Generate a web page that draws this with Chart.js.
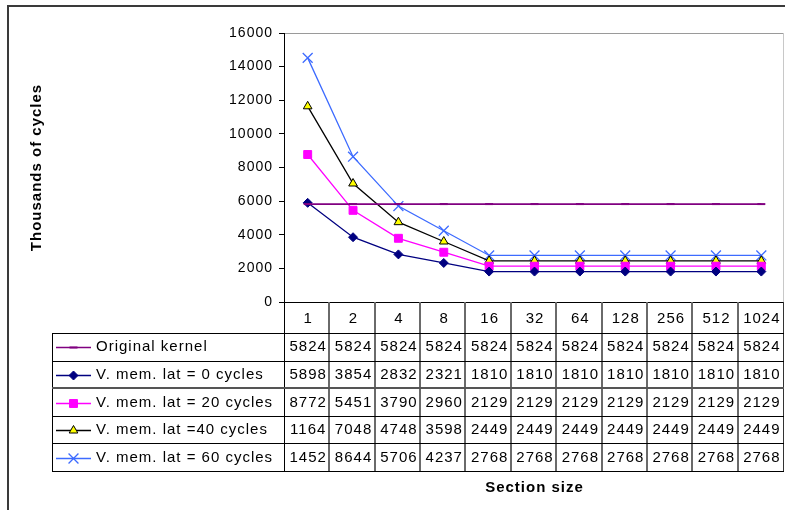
<!DOCTYPE html>
<html>
<head>
<meta charset="utf-8">
<script src="https://cdn.jsdelivr.net/npm/chart.js@4.4.1/dist/chart.umd.min.js"></script>
<style>
  html, body { margin: 0; padding: 0; background: #fff; overflow: hidden; }
  canvas { display: block; }
</style>
</head>
<body>
<canvas id="c" width="785" height="510"></canvas>
<script>
// Section sizes (categories)
const sectionSizes = ['1', '2', '4', '8', '16', '32', '64', '128', '256', '512', '1024'];

// Thousands of cycles per configuration
const originalKernel = [5824, 5824, 5824, 5824, 5824, 5824, 5824, 5824, 5824, 5824, 5824];
const memLat0  = [5898, 3854, 2832, 2321, 1810, 1810, 1810, 1810, 1810, 1810, 1810];
const memLat20 = [8772, 5451, 3790, 2960, 2129, 2129, 2129, 2129, 2129, 2129, 2129];
const memLat40 = [11640, 7048, 4748, 3598, 2449, 2449, 2449, 2449, 2449, 2449, 2449];
const memLat60 = [14520, 8644, 5706, 4237, 2768, 2768, 2768, 2768, 2768, 2768, 2768];

const seriesNames = [
  'Original kernel',
  'V. mem. lat = 0 cycles',
  'V. mem. lat = 20 cycles',
  'V. mem. lat =40 cycles',
  'V. mem. lat = 60 cycles'
];

// Y axis range
const yMin = 0, yMax = 16000, yStep = 2000;

const FONT = "'Liberation Sans', Arial, sans-serif";

// Per-series appearance
const seriesStyles = [
  { line: '#800080', fill: '#800080', edge: '#800080', pointStyle: 'line', radius: 4, edgeWidth: 2, lineWidth: 1.6 },
  { line: '#000080', fill: '#000080', edge: '#000080', pointStyle: 'rectRot', radius: 4.5, edgeWidth: 1, lineWidth: 1.3 },
  { line: '#FF00FF', fill: '#FF00FF', edge: '#FF00FF', pointStyle: 'rect', radius: 5.6, edgeWidth: 1, lineWidth: 1.3 },
  { line: '#000000', fill: '#FFFF00', edge: '#000000', pointStyle: 'triangle', radius: 5, edgeWidth: 1, lineWidth: 1.3 },
  { line: '#3D6BFF', fill: '#3D6BFF', edge: '#3D6BFF', pointStyle: 'crossRot', radius: 7, edgeWidth: 1.3, lineWidth: 1.3 }
];

const seriesValues = [originalKernel, memLat0, memLat20, memLat40, memLat60];

const datasets = seriesValues.map((vals, i) => {
  const s = seriesStyles[i];
  return {
    label: seriesNames[i],
    data: vals,
    borderColor: s.line,
    borderWidth: s.lineWidth,
    backgroundColor: s.fill,
    pointStyle: s.pointStyle,
    pointRadius: s.radius,
    pointHoverRadius: s.radius,
    pointBackgroundColor: s.fill,
    pointBorderColor: s.edge,
    pointBorderWidth: s.edgeWidth,
    tension: 0,
    fill: false
  };
});

const HEADER_H = 31;
const ROW_H = 27.6;
const TABLE_LEFT = 52;

function setSpacing(ctx) {
  if ('letterSpacing' in ctx) ctx.letterSpacing = '1px';
}

const spacingPlugin = {
  id: 'spacing',
  beforeUpdate(chart) { setSpacing(chart.ctx); },
  beforeDraw(chart) { setSpacing(chart.ctx); }
};

function hLine(ctx, x1, x2, y, color, w) {
  ctx.beginPath();
  ctx.strokeStyle = color;
  ctx.lineWidth = w;
  const yy = Math.round(y) + (w % 2 ? 0.5 : 0);
  ctx.moveTo(x1, yy);
  ctx.lineTo(x2, yy);
  ctx.stroke();
}
function vLine(ctx, x, y1, y2, color, w) {
  ctx.beginPath();
  ctx.strokeStyle = color;
  ctx.lineWidth = w;
  const xx = Math.round(x) + (w % 2 ? 0.5 : 0);
  ctx.moveTo(xx, y1);
  ctx.lineTo(xx, y2);
  ctx.stroke();
}

// Draws frame, data table with legend keys and axis titles
const tablePlugin = {
  id: 'dataTable',
  afterDraw(chart) {
    const ctx = chart.ctx;
    const ca = chart.chartArea;
    const xs = chart.scales.x;
    const n = sectionSizes.length;
    const colW = (ca.right - ca.left) / n;
    const headTop = ca.bottom;
    const headBottom = ca.bottom + HEADER_H;
    const tableBottom = headBottom + ROW_H * datasets.length;

    ctx.save();
    setSpacing(ctx);

    // outer frame
    hLine(ctx, 7, 785, 6, '#3a3a3a', 2);
    vLine(ctx, 8, 6, 510, '#3a3a3a', 2);

    // plot area edges
    hLine(ctx, ca.left, ca.right, ca.top, '#9a9a9a', 1);
    vLine(ctx, ca.right - 1, ca.top, ca.bottom, '#c8c8c8', 1);
    vLine(ctx, ca.left - 1, ca.top, tableBottom, '#000', 1);
    hLine(ctx, ca.left - 1, ca.right, ca.bottom, '#000', 1);

    // table grid
    for (let i = 1; i < n; i++) {
      vLine(ctx, ca.left + colW * i - 1, headTop, tableBottom, '#6a6a6a', 2);
    }
    vLine(ctx, ca.right - 1, headTop, tableBottom, '#333', 1);
    vLine(ctx, TABLE_LEFT, headBottom, tableBottom, '#000', 1);
    for (let r = 0; r <= datasets.length; r++) {
      const y = headBottom + ROW_H * r;
      hLine(ctx, TABLE_LEFT, ca.right, y, r === 2 ? '#555' : '#000', r === 2 ? 2 : 1);
    }

    ctx.fillStyle = '#000';
    ctx.textBaseline = 'middle';
    ctx.font = '15px ' + FONT;

    // category header
    ctx.textAlign = 'center';
    sectionSizes.forEach((lab, i) => {
      ctx.fillText(lab, xs.getPixelForValue(i) + 0.5, headTop + HEADER_H / 2 + 1);
    });

    // rows
    datasets.forEach((ds, r) => {
      const cy = headBottom + ROW_H * r + ROW_H / 2 + 0.5;
      const s = seriesStyles[r];

      // legend key
      ctx.beginPath();
      ctx.strokeStyle = s.line;
      ctx.lineWidth = s.lineWidth;
      ctx.moveTo(56, Math.round(cy) + 0.5);
      ctx.lineTo(91, Math.round(cy) + 0.5);
      ctx.stroke();
      ctx.fillStyle = s.fill;
      ctx.strokeStyle = s.edge;
      ctx.lineWidth = s.edgeWidth;
      Chart.helpers.drawPoint(ctx, {
        pointStyle: s.pointStyle,
        rotation: 0,
        radius: s.radius,
        borderWidth: s.edgeWidth
      }, 73.5, Math.round(cy) + 0.5);

      // series name
      ctx.fillStyle = '#000';
      ctx.textAlign = 'left';
      ctx.fillText(ds.label, 96, cy);

      // values, cut to the width of the cell
      ctx.textAlign = 'center';
      ds.data.forEach((v, i) => {
        let txt = String(v);
        while (txt.length > 1 && ctx.measureText(txt).width > colW - 1) {
          txt = txt.slice(0, -1);
        }
        ctx.fillText(txt, xs.getPixelForValue(i) + 0.5, cy);
      });
    });

    // axis titles
    ctx.font = 'bold 15px ' + FONT;
    ctx.textAlign = 'center';
    ctx.fillText('Section size', (ca.left + ca.right) / 2, 488);

    ctx.translate(37, (ca.top + ca.bottom) / 2);
    ctx.rotate(-Math.PI / 2);
    ctx.fillText('Thousands of cycles', 0, 0);
    ctx.restore();
  }
};

new Chart(document.getElementById('c'), {
  type: 'line',
  data: { labels: sectionSizes, datasets },
  options: {
    responsive: false,
    animation: false,
    devicePixelRatio: 1,
    layout: { autoPadding: false, padding: { top: 33, right: 1, left: 0, bottom: 0 } },
    plugins: {
      legend: { display: false },
      tooltip: { enabled: false },
      title: { display: false }
    },
    scales: {
      x: {
        type: 'category',
        offset: true,
        ticks: { display: false },
        grid: { display: false, drawTicks: false },
        border: { display: false },
        afterFit(scale) {
          scale.height = 510 - 302;
          scale.paddingLeft = 0;
          scale.paddingRight = 0;
        }
      },
      y: {
        min: yMin,
        max: yMax,
        ticks: {
          stepSize: yStep,
          color: '#000',
          padding: 6,
          font: { family: FONT, size: 14 },
          callback: (v) => String(v)
        },
        grid: {
          drawOnChartArea: false,
          drawTicks: true,
          tickLength: 6,
          tickColor: '#000',
          color: '#000'
        },
        border: { display: false },
        afterFit(scale) {
          scale.width = 285;
          scale.paddingTop = 0;
          scale.paddingBottom = 0;
        }
      }
    }
  },
  plugins: [spacingPlugin, tablePlugin]
});
</script>
</body>
</html>
